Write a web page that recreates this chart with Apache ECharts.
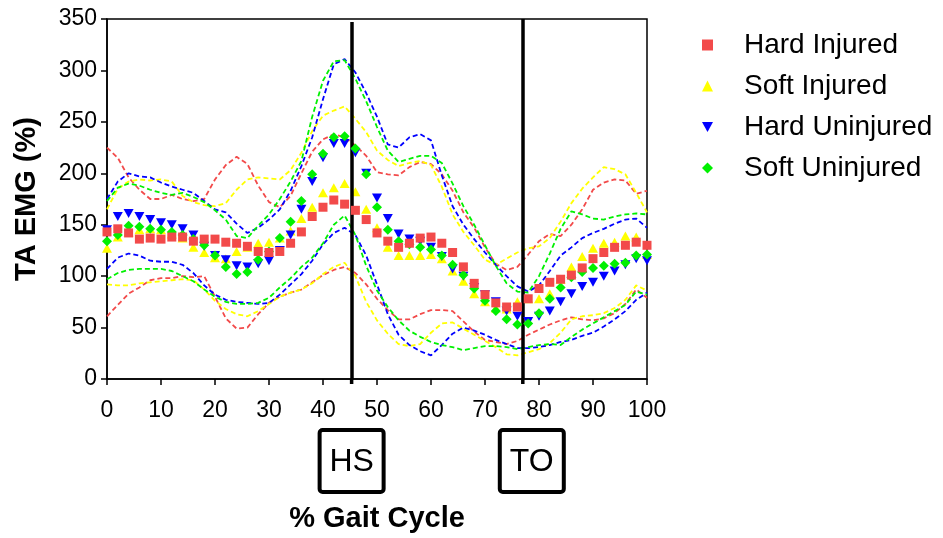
<!DOCTYPE html>
<html><head><meta charset="utf-8">
<script src="https://cdn.jsdelivr.net/npm/echarts@6/dist/echarts.min.js"></script>
<style>html,body{margin:0;padding:0;background:#fff;}#c{width:943px;height:538px;}</style>
</head><body><div id="c"></div>
<script>
// ---- data ----
const gaitPct = [0,2,4,6,8,10,12,14,16,18,20,22,24,26,28,30,32,34,36,38,40,42,44,46,48,50,52,54,56,58,60,62,64,66,68,70,72,74,76,78,80,82,84,86,88,90,92,94,96,98,100];
const hardInjured   = [143,146,142,136,137,136,138,138,134,136,136,133,132,129,124,123,124,132,143,158,167,174,170,164,155,142,134,128,132,137,138,132,123,109,93,82,74,70,70,78,88,94,97,101,108,117,123,128,130,133,130];
const softInjured   = [127,138,143,145,146,145,141,137,128,123,118,117,124,128,132,133,137,144,156,167,181,186,190,182,165,147,128,120,120,120,121,117,105,95,83,75,69,68,75,78,78,83,97,109,119,127,132,133,139,138,121];
const hardUninjured = [145,158,161,158,155,152,150,146,140,129,120,116,110,109,112,115,125,140,165,192,215,229,229,220,200,176,156,141,136,134,128,119,107,100,89,82,75,66,61,56,61,66,75,83,90,94,100,105,111,117,115];
const softUninjured = [134,140,149,148,146,145,143,140,136,130,120,109,102,104,116,124,137,153,173,199,219,235,236,224,199,167,145,134,131,128,126,120,111,101,88,76,66,58,53,54,64,78,89,99,104,108,110,112,113,120,121];
// dashed bands (upper / lower)
const hardInjuredUpper   = [225,215,196,184,175,175,179,175,173,175,194,208,216,209,188,172,167,178,200,221,233,238,235,227,217,201,199,198,206,211,209,199,183,162,147,128,112,106,109,121,134,141,139,150,165,184,191,194,193,180,183];
const hardInjuredLower   = [61,72,83,89,96,98,98,100,99,100,80,59,49,50,63,74,80,84,87,94,101,106,109,103,92,78,67,58,58,63,67,67,66,56,46,38,36,34,37,43,48,53,57,60,58,57,59,64,73,87,79];
const softInjuredUpper   = [165,185,192,194,193,194,192,178,172,169,168,171,184,194,196,195,194,203,220,241,256,261,265,253,240,222,213,207,210,212,208,187,160,143,130,116,111,117,123,127,129,137,153,171,185,196,206,204,199,181,162];
const softInjuredLower   = [92,91,91,93,94,95,96,97,96,87,76,68,63,61,66,73,80,84,87,93,102,109,113,100,75,57,44,34,32,34,45,54,55,49,43,37,31,24,23,26,29,35,45,58,61,62,64,69,77,91,86];
const hardUninjuredUpper = [175,192,200,197,196,191,187,184,181,173,165,162,151,142,147,155,165,183,207,235,272,306,311,298,278,255,228,225,235,238,232,198,168,150,136,123,111,100,90,85,91,105,120,128,137,142,146,151,155,156,147];
const hardUninjuredLower = [107,118,122,120,115,114,114,111,103,91,82,77,75,74,73,74,82,92,102,115,131,142,147,140,120,92,63,43,33,27,23,33,44,50,47,43,38,34,30,30,31,33,36,38,42,45,51,58,66,77,84];
const softUninjuredUpper = [173,186,190,188,184,181,179,181,177,172,164,155,139,137,149,160,175,192,212,255,290,309,310,292,270,245,222,211,214,217,217,210,190,168,150,130,110,93,85,84,100,122,146,163,160,156,155,158,160,161,160];
const softUninjuredLower = [97,103,106,107,107,107,105,100,95,87,80,75,73,73,74,79,89,98,109,118,132,150,159,140,110,86,70,57,47,41,36,33,31,28,30,32,32,31,29,31,33,34,33,41,48,54,60,66,72,85,82];
// gait events (% gait cycle)
const eventHS = 45.3;
const eventTO = 77;
const xTicks = {min:0, max:100, step:10};
const yTicks = {min:0, max:350, step:50};

// ---- styles ----
const FONT = '"Liberation Sans", Arial, sans-serif';
const C = {red:'#f24a4a', yellow:'#ffff00', blue:'#0000ff', green:'#00f000'};
const pairs = arr => gaitPct.map((x,i)=>[x, arr[i]]);
const downTri = 'path://M0,0L10,0L5,9Z';

function band(name, arr, color){
  return {name, type:'line', data:pairs(arr), symbol:'none', showSymbol:false, silent:true, z:2,
    lineStyle:{color, width:1.8, type:[5,3]}, animation:false};
}
function marks(name, arr, color, symbol, size, z){
  return {name, type:'scatter', data:pairs(arr), symbol, symbolSize:size, z,
    itemStyle:{color, opacity:1}, animation:false};
}

const chart = echarts.init(document.getElementById('c'), null, {renderer:'canvas'});
chart.setOption({
  backgroundColor:'#fff',
  textStyle:{fontFamily:FONT},
  grid:{left:107, right:296, top:19, bottom:158, show:true, borderColor:'#000', borderWidth:1.5, backgroundColor:'transparent'},
  legend:{
    orient:'vertical', left:697, top:26, itemWidth:11, itemHeight:11, itemGap:13, selectedMode:false,
    textStyle:{fontSize:28, color:'#000', fontFamily:FONT, padding:[0,0,0,26]},
    data:[
      {name:'Hard Injured', icon:'rect'},
      {name:'Soft Injured', icon:'triangle'},
      {name:'Hard Uninjured', icon:downTri},
      {name:'Soft Uninjured', icon:'diamond'}
    ]
  },
  xAxis:{
    type:'value', min:xTicks.min, max:xTicks.max, interval:xTicks.step,
    name:'% Gait Cycle', nameLocation:'middle', nameGap:125,
    nameTextStyle:{fontSize:29, fontWeight:'bold', color:'#000', fontFamily:FONT},
    axisLine:{show:true, lineStyle:{color:'#000', width:1.5}},
    axisTick:{show:true, inside:false, length:6, lineStyle:{color:'#000', width:1.5}},
    axisLabel:{fontSize:23, color:'#000', margin:20, fontFamily:FONT},
    splitLine:{show:false}
  },
  yAxis:{
    type:'value', min:yTicks.min, max:yTicks.max, interval:yTicks.step,
    name:'TA EMG (%)', nameLocation:'middle', nameGap:66, nameRotate:90,
    nameTextStyle:{fontSize:29, fontWeight:'bold', color:'#000', fontFamily:FONT},
    axisLine:{show:true, lineStyle:{color:'#000', width:1.5}},
    axisTick:{show:true, inside:false, length:6, lineStyle:{color:'#000', width:1.5}},
    axisLabel:{fontSize:23, color:'#000', margin:10, fontFamily:FONT},
    splitLine:{show:false}
  },
  series:[
    band('Hard Injured upper', hardInjuredUpper, C.red),
    band('Hard Injured lower', hardInjuredLower, C.red),
    band('Soft Injured upper', softInjuredUpper, C.yellow),
    band('Soft Injured lower', softInjuredLower, C.yellow),
    band('Hard Uninjured upper', hardUninjuredUpper, C.blue),
    band('Hard Uninjured lower', hardUninjuredLower, C.blue),
    band('Soft Uninjured upper', softUninjuredUpper, C.green),
    band('Soft Uninjured lower', softUninjuredLower, C.green),
    {name:'events', type:'scatter', data:[], z:3, animation:false,
      markLine:{silent:true, symbol:'none', label:{show:false}, animation:false,
        lineStyle:{color:'#000', width:3.5, type:'solid'},
        data:[
          [{coord:[eventHS, 0]},{coord:[eventHS, 347]}],
          [{coord:[eventTO, 0]},{coord:[eventTO, 350]}]
        ]}},
    marks('Soft Injured', softInjured, C.yellow, 'triangle', [10,9], 4),
    marks('Hard Uninjured', hardUninjured, C.blue, downTri, [10,9], 5),
    marks('Soft Uninjured', softUninjured, C.green, 'diamond', [10,10], 6),
    marks('Hard Injured', hardInjured, C.red, 'rect', [9,9], 7)
  ]
});

// event labels under the axis
const hsX = chart.convertToPixel({xAxisIndex:0}, eventHS);
const toX = chart.convertToPixel({xAxisIndex:0}, eventTO);
const yZero = chart.convertToPixel({yAxisIndex:0}, 0);
function eventBox(cx, label){
  const w = 64, h = 62, top = 430;
  return [
    {type:'rect', shape:{x:cx-w/2, y:top, width:w, height:h, r:3}, style:{fill:'#fff', stroke:'#000', lineWidth:4}, silent:true},
    {type:'text', style:{text:label, x:cx, y:top+h/2+1, align:'center', verticalAlign:'middle', fontSize:32, fontFamily:FONT, fill:'#000'}, silent:true}
  ];
}
function tickExt(cx){
  return {type:'line', shape:{x1:cx, y1:yZero, x2:cx, y2:yZero+5}, style:{stroke:'#000', lineWidth:3.5}, silent:true};
}
chart.setOption({graphic:[...eventBox(hsX, 'HS'), ...eventBox(toX + 9, 'TO'), tickExt(hsX), tickExt(toX)]});
</script></body></html>
